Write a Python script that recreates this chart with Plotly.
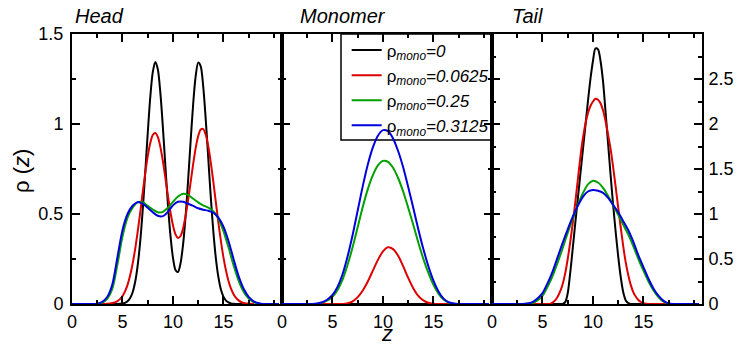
import plotly.graph_objects as go

# ---- data ----
Z = [0.0, 0.5, 1.0, 1.5, 2.0, 2.5, 3.0, 3.5, 4.0, 4.5, 5.0, 5.5, 6.0, 6.5, 7.0, 7.5,
     8.0, 8.5, 9.0, 9.5, 10.0, 10.5, 11.0, 11.5, 12.0, 12.5, 13.0, 13.5, 14.0, 14.5,
     15.0, 15.5, 16.0, 16.5, 17.0, 17.5, 18.0, 18.5, 19.0, 19.5, 20.0, 20.5]

Z_FINE = [3.0, 3.25, 3.5, 3.75, 4.0, 4.25, 4.5, 4.75, 5.0, 5.25, 5.5, 5.75,
          6.0, 6.25, 6.5, 6.75, 7.0, 7.25, 7.5, 7.75, 8.0, 8.25, 8.5, 8.75,
          9.0, 9.25, 9.5, 9.75, 10.0, 10.25, 10.5, 10.75, 11.0, 11.25, 11.5, 11.75,
          12.0, 12.25, 12.5, 12.75, 13.0, 13.25, 13.5, 13.75, 14.0, 14.25, 14.5, 14.75,
          15.0, 15.25, 15.5, 15.75, 16.0, 16.25, 16.5, 16.75, 17.0, 17.25, 17.5, 17.75,
          18.0]

series_names = ["ρ<sub><i>mono</i></sub><i>=0</i>",
                "ρ<sub><i>mono</i></sub><i>=0.0625</i>",
                "ρ<sub><i>mono</i></sub><i>=0.25</i>",
                "ρ<sub><i>mono</i></sub><i>=0.3125</i>"]
panel_titles = ["Head", "Monomer", "Tail"]

# Head panel (black and red sampled on Z_FINE, green and blue on Z)
head_0 = [0, 0, 0, 0,
          0, 0, 0, 0.001,
          0.002, 0.006, 0.015, 0.032,
          0.064, 0.121, 0.212, 0.344,
          0.519, 0.728, 0.948, 1.147,
          1.288, 1.345, 1.304, 1.174,
          0.983, 0.765, 0.555, 0.381,
          0.257, 0.189, 0.178, 0.226,
          0.330, 0.487, 0.687, 0.905,
          1.11, 1.266, 1.341, 1.320,
          1.206, 1.023, 0.807, 0.591,
          0.402, 0.254, 0.149, 0.081,
          0.041, 0.019, 0.009, 0.003,
          0.001, 0, 0, 0,
          0, 0, 0, 0,
          0]
head_0625 = [0, 0, 0.001, 0.0025,
             0.005, 0.009, 0.016, 0.027,
             0.044, 0.070, 0.106, 0.157,
             0.222, 0.303, 0.399, 0.505,
             0.617, 0.725, 0.820, 0.894,
             0.939, 0.950, 0.928, 0.873,
             0.794, 0.700, 0.602, 0.511,
             0.437, 0.387, 0.367, 0.378,
             0.420, 0.489, 0.577, 0.677,
             0.777, 0.866, 0.933, 0.969,
             0.972, 0.940, 0.875, 0.785,
             0.678, 0.564, 0.452, 0.349,
             0.259, 0.186, 0.128, 0.085,
             0.054, 0.034, 0.020, 0.011,
             0.006, 0.003, 0.002, 0.001,
             0]
head_25 = [0, 0, 0, 0, 0, 0, 0.008, 0.03, 0.085, 0.22, 0.375, 0.48, 0.535, 0.565, 0.565, 0.545,
           0.525, 0.51, 0.512, 0.535, 0.567, 0.597, 0.612, 0.606, 0.585, 0.565, 0.548, 0.535,
           0.515, 0.475, 0.405, 0.315, 0.215, 0.13, 0.068, 0.03, 0.01, 0.002, 0, 0, 0, 0]
head_3125 = [0, 0, 0, 0, 0, 0.002, 0.012, 0.04, 0.11, 0.26, 0.41, 0.50, 0.546, 0.566, 0.557, 0.535,
             0.51, 0.49, 0.488, 0.512, 0.548, 0.568, 0.568, 0.557, 0.545, 0.532, 0.524, 0.518,
             0.508, 0.48, 0.43, 0.35, 0.25, 0.155, 0.085, 0.04, 0.015, 0.004, 0, 0, 0, 0]

# Monomer panel (all on Z)
mono_0 = [0] * 42
mono_0625 = [0, 0, 0, 0, 0, 0, 0, 0, 0, 0, 0, 0, 0, 0.004, 0.015, 0.038,
             0.075, 0.125, 0.185, 0.245, 0.292, 0.315, 0.305, 0.268, 0.21, 0.145, 0.088, 0.045,
             0.02, 0.007, 0.002, 0, 0, 0, 0, 0, 0, 0, 0, 0, 0, 0]
mono_25 = [0, 0, 0, 0, 0, 0, 0, 0.002, 0.008, 0.02, 0.04, 0.078, 0.136, 0.218, 0.317, 0.428,
           0.539, 0.638, 0.716, 0.77, 0.795, 0.79, 0.757, 0.70, 0.625, 0.535, 0.44, 0.342,
           0.251, 0.173, 0.107, 0.058, 0.025, 0.008, 0.002, 0, 0, 0, 0, 0, 0, 0]
mono_3125 = [0, 0, 0, 0, 0, 0, 0, 0.003, 0.01, 0.025, 0.05, 0.095, 0.165, 0.265, 0.385, 0.52,
             0.655, 0.775, 0.87, 0.935, 0.966, 0.96, 0.92, 0.85, 0.76, 0.65, 0.535, 0.415,
             0.305, 0.21, 0.13, 0.07, 0.03, 0.01, 0.003, 0, 0, 0, 0, 0, 0, 0]

# Tail panel (black and red on Z_FINE, green and blue on Z)
tail_0 = [0, 0, 0, 0,
          0, 0, 0, 0,
          0, 0, 0, 0,
          0, 0, 0, 0,
          0, 0.02, 0.12, 0.35,
          0.62, 0.90, 1.17, 1.44,
          1.71, 1.98, 2.25, 2.50,
          2.70, 2.84, 2.83, 2.70,
          2.47, 2.13, 1.78, 1.43,
          1.10, 0.80, 0.53, 0.30,
          0.13, 0.04, 0.01, 0,
          0, 0, 0, 0,
          0, 0, 0, 0,
          0, 0, 0, 0,
          0, 0, 0, 0,
          0]
tail_0625 = [0, 0, 0, 0,
             0, 0, 0, 0,
             0, 0, 0, 0,
             0.015, 0.04, 0.08, 0.14,
             0.22, 0.34, 0.50, 0.69,
             0.90, 1.13, 1.38, 1.63,
             1.84, 2.00, 2.12, 2.20,
             2.25, 2.28, 2.27, 2.23,
             2.15, 2.03, 1.88, 1.72,
             1.52, 1.30, 1.07, 0.85,
             0.64, 0.46, 0.32, 0.21,
             0.13, 0.08, 0.045, 0.022,
             0.008, 0.002, 0, 0,
             0, 0, 0, 0,
             0, 0, 0, 0,
             0]
tail_25 = [0, 0, 0, 0, 0, 0, 0, 0.002, 0.01, 0.04, 0.09, 0.19, 0.31, 0.46, 0.62, 0.79,
           0.95, 1.10, 1.23, 1.33, 1.37, 1.35, 1.29, 1.20, 1.10, 0.99, 0.88, 0.77,
           0.64, 0.50, 0.37, 0.25, 0.15, 0.075, 0.025, 0.004, 0, 0, 0, 0, 0, 0]
tail_3125 = [0, 0, 0, 0, 0, 0, 0, 0.005, 0.02, 0.06, 0.12, 0.23, 0.36, 0.52, 0.68, 0.83,
             0.97, 1.09, 1.19, 1.25, 1.267, 1.258, 1.235, 1.18, 1.10, 1.02, 0.92, 0.82,
             0.69, 0.54, 0.41, 0.28, 0.17, 0.09, 0.035, 0.007, 0, 0, 0, 0, 0, 0]

x_ticks = [0, 5, 10, 15]
x_ticktext = ["0", "5", "10", "15"]
y_left_ticks = [0, 0.5, 1, 1.5]
y_left_text = ["0", "0.5", "1", "1.5"]
y_right_ticks = [0, 0.5, 1, 1.5, 2, 2.5]
y_right_text = ["0", "0.5", "1", "1.5", "2", "2.5"]

colors = ["#000000", "#dd0000", "#00a000", "#0000dd"]
panels = [[(Z_FINE, head_0), (Z_FINE, head_0625), (Z, head_25), (Z, head_3125)],
          [(Z, mono_0), (Z, mono_0625), (Z, mono_25), (Z, mono_3125)],
          [(Z_FINE, tail_0), (Z_FINE, tail_0625), (Z, tail_25), (Z, tail_3125)]]

FONT = "Liberation Sans, Arial, Helvetica, sans-serif"

fig = go.Figure()
for p, data in enumerate(panels):
    xa = "x" if p == 0 else "x%d" % (p + 1)
    ya = "y" if p == 0 else "y%d" % (p + 1)
    for k, (zz, vals) in enumerate(data):
        fig.add_trace(go.Scatter(
            x=zz, y=vals, mode="lines", name=series_names[k],
            line=dict(color=colors[k], width=2, shape="spline", smoothing=0.8),
            showlegend=(p == 0), xaxis=xa, yaxis=ya, hoverinfo="skip"))

axis_common = dict(showline=True, linewidth=2, linecolor="black", mirror="allticks",
                   ticks="inside", ticklen=8, tickwidth=1.5, tickcolor="black",
                   showgrid=False, zeroline=False, automargin=False,
                   tickfont=dict(family=FONT, size=18, color="black"))

doms = [[0, 1 / 3], [1 / 3, 2 / 3], [2 / 3, 1]]
layout = dict(
    width=739, height=345,
    margin=dict(l=72, r=37, t=34, b=41),
    paper_bgcolor="white", plot_bgcolor="white",
    font=dict(family=FONT, color="black"),
    legend=dict(x=0.436, y=1 + 1.5 / 270, xanchor="left", yanchor="top",
                bgcolor="rgba(0,0,0,0)", borderwidth=0,
                font=dict(family=FONT, size=17, color="black"),
                tracegroupgap=0, itemwidth=30),
)
for p in range(3):
    xk = "xaxis" if p == 0 else "xaxis%d" % (p + 1)
    yk = "yaxis" if p == 0 else "yaxis%d" % (p + 1)
    ya_name = "y" if p == 0 else "y%d" % (p + 1)
    xa_name = "x" if p == 0 else "x%d" % (p + 1)
    layout[xk] = dict(axis_common, domain=doms[p], range=[0, 20.8], anchor=ya_name,
                      tickmode="array", tickvals=x_ticks, ticktext=x_ticktext,
                      minor=dict(ticks="inside", ticklen=4, tickwidth=1.5, tickcolor="black",
                                 dtick=2.5, tick0=0))
    if p < 2:
        layout[yk] = dict(axis_common, domain=[0, 1], range=[0, 1.5], anchor=xa_name,
                          tickmode="array", tickvals=y_left_ticks, ticktext=y_left_text,
                          showticklabels=(p == 0), ticklabelstandoff=3,
                          minor=dict(ticks="inside", ticklen=4, tickwidth=1.5, tickcolor="black",
                                     dtick=0.25, tick0=0))
    else:
        layout[yk] = dict(axis_common, domain=[0, 1], range=[0, 3], anchor=xa_name, side="right",
                          tickmode="array", tickvals=y_right_ticks, ticktext=y_right_text,
                          ticklabelstandoff=1,
                          minor=dict(ticks="inside", ticklen=4, tickwidth=1.5, tickcolor="black",
                                     dtick=0.25, tick0=0))

fig.update_layout(**layout)

# legend frame
fig.add_shape(type="rect", xref="paper", yref="paper",
              x0=(341 - 72) / 630, x1=(492 - 72) / 630, y0=(304 - 140) / 270, y1=1.0,
              line=dict(color="black", width=1.5), fillcolor="rgba(0,0,0,0)", layer="below")

title_x = [73, 298, 510]
for t, px in zip(panel_titles, title_x):
    fig.add_annotation(text="<i>%s</i>" % t, xref="paper", yref="paper",
                       x=(px - 72) / 630, y=1 + 18 / 270, xanchor="left", yanchor="middle",
                       showarrow=False, font=dict(family=FONT, size=20, color="black"))

fig.add_annotation(text="<i>z</i>", xref="paper", yref="paper", x=(387 - 72) / 630,
                   y=-(333 - 304) / 270, xanchor="center", yanchor="middle", showarrow=False,
                   font=dict(family=FONT, size=22, color="black"))
fig.add_annotation(text="ρ (<i>z</i>)", xref="paper", yref="paper", x=(21 - 72) / 630,
                   y=(304 - 171) / 270, xanchor="center", yanchor="middle", showarrow=False,
                   textangle=-90, font=dict(family=FONT, size=22, color="black"))

# remove the page's default 8px body margin so the figure sits at the window's corner
fig.write_html("out.html", config={"displayModeBar": False},
               post_script="document.body.style.margin='0px';")
